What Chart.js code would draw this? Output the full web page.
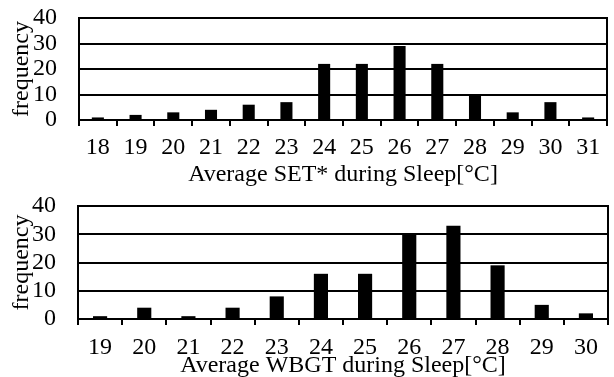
<!DOCTYPE html>
<html lang="en">

<head>
    <meta charset="UTF-8">
    <title>Average SET* / WBGT during Sleep</title>
    <script src="https://cdn.jsdelivr.net/npm/chart.js"></script>
    <style>
        body { margin: 0; background: #fff; }
        .box { position: absolute; left: 0; width: 614px; }
        #top { top: 0; height: 190px; }
        #bottom { top: 190px; height: 187px; }
    </style>
</head>

<body>
    <div class="box" id="top"><canvas id="setChart"></canvas></div>
    <div class="box" id="bottom"><canvas id="wbgtChart"></canvas></div>
    <script>
        const setLabels = ['18', '19', '20', '21', '22', '23', '24', '25', '26', '27', '28', '29', '30', '31'];
        const setFreq = [1, 2, 3, 4, 6, 7, 22, 22, 29, 22, 10, 3, 7, 1];

        const wbgtLabels = ['19', '20', '21', '22', '23', '24', '25', '26', '27', '28', '29', '30'];
        const wbgtFreq = [1, 4, 1, 4, 8, 16, 16, 30, 33, 19, 5, 2];

        const yTicks = [0, 10, 20, 30, 40];

        const serif = 'Liberation Serif';
        const font = { family: serif, size: 24, lineHeight: 1.2 };

        const makeChart = (id, labels, values, title, g) => {
            const ctx = document.getElementById(id).getContext('2d');
            return new Chart(ctx, {
                type: 'bar',
                data: {
                    labels: labels,
                    datasets: [{
                        data: values,
                        backgroundColor: '#000',
                        borderWidth: 0,
                        categoryPercentage: 1,
                        barPercentage: 0.32
                    }]
                },
                options: {
                    responsive: true,
                    maintainAspectRatio: false,
                    animation: false,
                    layout: { padding: { top: g.top, right: g.right, left: 0, bottom: 0 } },
                    plugins: { legend: { display: false }, tooltip: { enabled: false } },
                    scales: {
                        x: {
                            grid: { offset: true, drawOnChartArea: false, color: '#000', lineWidth: 2, tickLength: 6 },
                            border: { color: '#000', width: 2 },
                            ticks: { color: '#000', font: font, padding: g.tickPad, maxRotation: 0, autoSkip: false },
                            title: { display: true, text: title, color: '#000', font: font, padding: { top: 0, bottom: g.titlePad } },
                            afterFit: s => { s.height = g.xHeight; }
                        },
                        y: {
                            min: 0,
                            max: 40,
                            afterBuildTicks: s => { s.ticks = yTicks.map(v => ({ value: v })); },
                            // invisible tick marks leave the gap between labels and axis
                            grid: { color: '#000', lineWidth: 2, tickColor: 'rgba(0,0,0,0)', tickLength: 22 },
                            border: { color: '#000', width: 2 },
                            ticks: { color: '#000', font: font, padding: 0, autoSkip: false },
                            title: { display: true, text: 'frequency', color: '#000', font: font, padding: { top: 7, bottom: 0 } },
                            afterFit: s => { s.width = g.yWidth; }
                        },
                        y2: {
                            position: 'right',
                            min: 0,
                            max: 40,
                            grid: { display: false },
                            ticks: { display: false },
                            border: { color: '#000', width: 2 },
                            afterFit: s => { s.width = 0; }
                        }
                    }
                }
            });
        };

        makeChart('setChart', setLabels, setFreq, 'Average SET* during Sleep[°C]',
            { top: 18, right: 7, yWidth: 79, xHeight: 70, tickPad: 7, titlePad: 1 });
        makeChart('wbgtChart', wbgtLabels, wbgtFreq, 'Average WBGT during Sleep[°C]',
            { top: 16, right: 6, yWidth: 78, xHeight: 58, tickPad: 8, titlePad: -3 });
    </script>
</body>

</html>
